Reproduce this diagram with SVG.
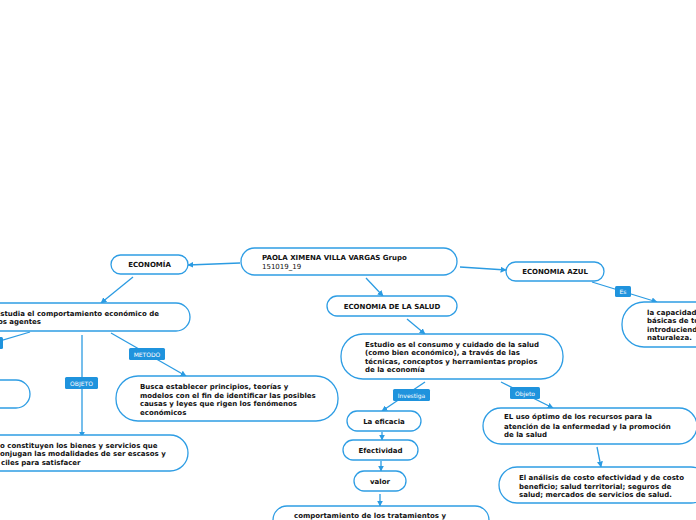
<svg xmlns="http://www.w3.org/2000/svg" width="696" height="520" viewBox="0 0 696 520">
<defs>
<marker id="ah" viewBox="0 0 10 10" refX="9" refY="5" markerWidth="6" markerHeight="6" orient="auto" markerUnits="userSpaceOnUse">
<path d="M0,0 L10,5 L0,10 z" fill="#2b9be2"/>
</marker>
<style>
.n{fill:#fff;stroke:#2e9de4;stroke-width:1.3}
.t{font-family:"DejaVu Sans",Verdana,sans-serif;font-size:7px;font-weight:bold;fill:#111}
.tn{font-family:"DejaVu Sans",Verdana,sans-serif;font-size:7px;fill:#111}
.c{stroke:#2b9be2;stroke-width:1.3;fill:none;marker-end:url(#ah)}
.cl{stroke:#2b9be2;stroke-width:1.3;fill:none}
.lb{fill:#1f93dd}
.lt{font-family:"DejaVu Sans",Verdana,sans-serif;font-size:6px;fill:#fff}
</style>
</defs>
<rect width="696" height="520" fill="#fff"/>
<g id="connectors">
<line class="c" x1="240" y1="263" x2="188" y2="265"/>
<line class="c" x1="460" y1="267" x2="506" y2="270"/>
<line class="c" x1="366" y1="278" x2="383" y2="296"/>
<line class="c" x1="133" y1="277" x2="101" y2="303"/>
<line class="c" x1="407" y1="319" x2="425" y2="334"/>
<line class="cl" x1="30" y1="332" x2="0" y2="341"/>
<line class="c" x1="82" y1="335" x2="82" y2="437"/>
<line class="c" x1="111" y1="333" x2="186" y2="376"/>
<line class="c" x1="592" y1="282" x2="657" y2="302"/>
<line class="c" x1="425" y1="382" x2="382" y2="411"/>
<line class="c" x1="501" y1="382" x2="553" y2="408"/>
<line class="c" x1="382" y1="432" x2="382" y2="440"/>
<line class="c" x1="381" y1="461" x2="381" y2="471"/>
<line class="c" x1="380" y1="494" x2="380" y2="506"/>
<line class="c" x1="597" y1="447" x2="601" y2="467"/>
<rect class="lb" x="-6" y="337" width="9" height="12" rx="1.5"/>
<rect class="lb" x="65" y="377" width="33" height="12" rx="1.5"/>
<text class="lt" x="81.5" y="385.5" text-anchor="middle">OBJETO</text>
<rect class="lb" x="129" y="348" width="36" height="12" rx="1.5"/>
<text class="lt" x="147" y="356.5" text-anchor="middle">METODO</text>
<rect class="lb" x="615" y="286" width="16" height="11" rx="1.5"/>
<text class="lt" x="623" y="294" text-anchor="middle">Es</text>
<rect class="lb" x="393" y="389" width="37" height="12" rx="1.5"/>
<text class="lt" x="411.5" y="397.5" text-anchor="middle">Investiga</text>
<rect class="lb" x="510" y="387" width="30" height="12" rx="1.5"/>
<text class="lt" x="525" y="395.5" text-anchor="middle">Objeto</text>
</g>
<g id="central">
<rect class="n" x="241" y="248" width="216" height="27" rx="13.5"/>
<text class="t" x="262" y="260">PAOLA XIMENA VILLA VARGAS Grupo</text>
<text class="tn" x="262" y="268.5">151019_19</text>
</g>
<g id="economia">
<rect class="n" x="111" y="255" width="77" height="19" rx="9.5"/>
<text class="t" x="149.5" y="267" text-anchor="middle">ECONOMÍA</text>
</g>
<g id="economia-azul">
<rect class="n" x="506" y="262" width="98" height="19" rx="9.5"/>
<text class="t" x="555" y="274" text-anchor="middle">ECONOMIA AZUL</text>
</g>
<g id="economia-salud">
<rect class="n" x="327" y="296" width="130" height="20" rx="10"/>
<text class="t" x="392" y="308.5" text-anchor="middle">ECONOMIA DE LA SALUD</text>
</g>
<g id="estudia">
<rect class="n" x="-30" y="303" width="220" height="28" rx="14"/>
<text class="t" x="-4.5" y="315.5">Estudia el comportamiento económico de</text>
<text class="t" x="-4.5" y="324">los agentes</text>
</g>
<g id="left-node">
<rect class="n" x="-40" y="380" width="70" height="28" rx="14"/>
</g>
<g id="bienes">
<rect class="n" x="-40" y="435" width="228" height="36" rx="18"/>
<text class="t" x="0" y="448">o constituyen los bienes y servicios que</text>
<text class="t" x="0" y="456">onjugan las modalidades de ser escasos y</text>
<text class="t" x="1" y="464.5">ciles para satisfacer</text>
</g>
<g id="busca">
<rect class="n" x="116" y="376" width="222" height="45" rx="22"/>
<text class="t" x="140" y="388.5">Busca establecer principios, teorías y</text>
<text class="t" x="140" y="397.5">modelos con el fin de identificar las posibles</text>
<text class="t" x="140" y="406">causas y leyes que rigen los fenómenos</text>
<text class="t" x="140" y="414.5">económicos</text>
</g>
<g id="estudio">
<rect class="n" x="341" y="334" width="222" height="45" rx="22"/>
<text class="t" x="365" y="346.5">Estudio es el consumo y cuidado de la salud</text>
<text class="t" x="365" y="355">(como bien económico), a través de las</text>
<text class="t" x="365" y="363.5">técnicas, conceptos y herramientas propios</text>
<text class="t" x="365" y="371.5">de la economía</text>
</g>
<g id="capacidad">
<rect class="n" x="622" y="302" width="120" height="45" rx="22"/>
<text class="t" x="647" y="314.5">la capacidad</text>
<text class="t" x="647" y="323">básicas de to</text>
<text class="t" x="647" y="331.5">introduciend</text>
<text class="t" x="647" y="340">naturaleza.</text>
</g>
<g id="eficacia">
<rect class="n" x="347" y="411" width="74" height="20" rx="10"/>
<text class="t" x="384" y="423.5" text-anchor="middle">La eficacia</text>
</g>
<g id="efectividad">
<rect class="n" x="343" y="440" width="75" height="20" rx="10"/>
<text class="t" x="380.5" y="452.5" text-anchor="middle">Efectividad</text>
</g>
<g id="valor">
<rect class="n" x="354" y="471" width="52" height="20" rx="10"/>
<text class="t" x="380" y="483.5" text-anchor="middle">valor</text>
</g>
<g id="comportamiento">
<rect class="n" x="273" y="506" width="216" height="40" rx="14"/>
<text class="t" x="294" y="517.5">comportamiento de los tratamientos y</text>
</g>
<g id="uso-optimo">
<rect class="n" x="483" y="408" width="214" height="36" rx="18"/>
<text class="t" x="504" y="419">EL uso óptimo de los recursos para la</text>
<text class="t" x="504" y="428.5">atención de la enfermedad y la promoción</text>
<text class="t" x="504" y="437">de la salud</text>
</g>
<g id="analisis">
<rect class="n" x="499" y="467" width="210" height="36" rx="18"/>
<text class="t" x="519" y="479.5">El análisis de costo efectividad y de costo</text>
<text class="t" x="519" y="488.5">beneficio; salud territorial; seguros de</text>
<text class="t" x="519" y="497">salud; mercados de servicios de salud.</text>
</g>
</svg>
